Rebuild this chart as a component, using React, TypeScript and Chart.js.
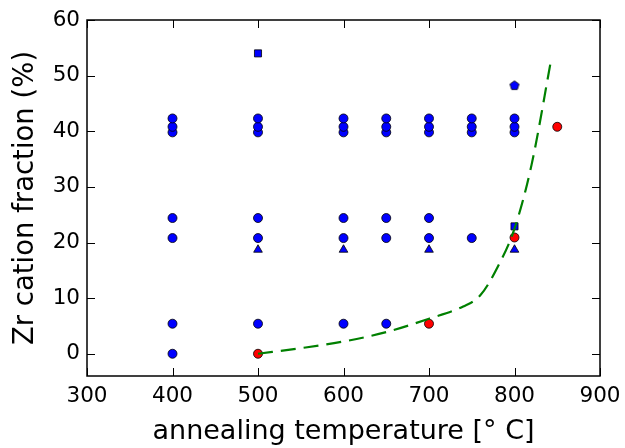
import React, { useEffect, useRef } from "react";
import { Chart, registerables } from "chart.js";

Chart.register(...registerables);

// Data (annealing temperature in °C, Zr cation fraction in %)
const circleT = [400, 400, 400, 400, 400, 400, 400,
  500, 500, 500, 500, 500, 500,
  600, 600, 600, 600, 600, 600,
  650, 650, 650, 650, 650, 650,
  700, 700, 700, 700, 700,
  750, 750, 750, 750,
  800, 800, 800];
const circleZr = [0, 5.4, 20.8, 24.4, 39.8, 40.8, 42.3,
  5.4, 20.8, 24.4, 39.8, 40.8, 42.3,
  5.4, 20.8, 24.4, 39.8, 40.8, 42.3,
  5.4, 20.8, 24.4, 39.8, 40.8, 42.3,
  20.8, 24.4, 39.8, 40.8, 42.3,
  20.8, 39.8, 40.8, 42.3,
  39.8, 40.8, 42.3];
const triangleT = [500, 600, 700, 800];
const triangleZr = [18.7, 18.7, 18.7, 18.7];
const squareT = [500, 800];
const squareZr = [54, 22.9];
const pentagonT = [800];
const pentagonZr = [48.3];
const redT = [500, 700, 800, 850];
const redZr = [0, 5.4, 20.9, 40.8];
const curveT = [500, 550, 600, 650, 700, 740, 760, 780, 800, 820, 843];
const curveZr = [0, 1, 2.2, 3.9, 6.3, 8.5, 10.5, 15.5, 22.5, 34, 53];
const xTicks = [300, 400, 500, 600, 700, 800, 900];
const yTicks = [0, 10, 20, 30, 40, 50, 60];

const pts = (xs: number[], ys: number[]) => xs.map((x, i) => ({ x, y: ys[i] }));

function makePentagon(): HTMLCanvasElement {
  const c = document.createElement("canvas");
  const s = 12;
  c.width = s;
  c.height = s;
  const ctx = c.getContext("2d")!;
  const r = 4.8;
  ctx.beginPath();
  for (let i = 0; i < 5; i++) {
    const a = -Math.PI / 2 + (i * 2 * Math.PI) / 5;
    const px = s / 2 + r * Math.cos(a);
    const py = s / 2 + 0.5 + r * Math.sin(a);
    if (i === 0) ctx.moveTo(px, py);
    else ctx.lineTo(px, py);
  }
  ctx.closePath();
  ctx.fillStyle = "#0000ff";
  ctx.fill();
  ctx.lineWidth = 0.8;
  ctx.strokeStyle = "#000";
  ctx.stroke();
  return c;
}

const framePlugin = {
  id: "frame",
  afterDraw(chart: any) {
    const { ctx, chartArea: a, scales } = chart;
    const L = 8;
    ctx.save();
    ctx.strokeStyle = "#000";
    ctx.lineWidth = 1;
    ctx.beginPath();
    scales.x.ticks.forEach((t: any) => {
      const px = Math.round(scales.x.getPixelForValue(t.value)) + 0.5;
      ctx.moveTo(px, a.bottom);
      ctx.lineTo(px, a.bottom - L);
      ctx.moveTo(px, a.top);
      ctx.lineTo(px, a.top + L);
    });
    scales.y.ticks.forEach((t: any) => {
      const py = Math.round(scales.y.getPixelForValue(t.value)) + 0.5;
      ctx.moveTo(a.left, py);
      ctx.lineTo(a.left + L, py);
      ctx.moveTo(a.right, py);
      ctx.lineTo(a.right - L, py);
    });
    ctx.stroke();
    ctx.lineWidth = 1.5;
    ctx.strokeRect(a.left, a.top, a.right - a.left, a.bottom - a.top);
    ctx.restore();
  },
};

export default function App() {
  const ref = useRef<HTMLCanvasElement>(null);
  useEffect(() => {
    if (!ref.current) return;
    const pent = makePentagon();
    const common = { borderColor: "#000", borderWidth: 0.8, pointRadius: 4.5, pointHoverRadius: 4.5 };
    const chart = new Chart(ref.current, {
      type: "scatter",
      data: {
        datasets: [
          {
            data: pts(curveT, curveZr),
            showLine: true,
            borderColor: "#008000",
            borderWidth: 2.2,
            borderDash: [15, 8],
            pointRadius: 0,
            cubicInterpolationMode: "monotone",
            fill: false,
          } as any,
          { ...common, data: pts(redT, redZr), backgroundColor: "#ff0000", pointStyle: "circle" },
          { ...common, data: pts(circleT, circleZr), backgroundColor: "#0000ff", pointStyle: "circle" },
          { ...common, data: pts(triangleT, triangleZr), backgroundColor: "#0000ff", pointStyle: "triangle", pointRadius: 5 },
          { ...common, data: pts(squareT, squareZr), backgroundColor: "#0000ff", pointStyle: "rect", pointRadius: 5 },
          { ...common, data: pts(pentagonT, pentagonZr), backgroundColor: "#0000ff", pointStyle: pent as any },
        ],
      },
      options: {
        animation: false,
        responsive: false,
        devicePixelRatio: 1,
        layout: { padding: { top: 20, right: 25, left: 0, bottom: 0 } },
        plugins: { legend: { display: false }, tooltip: { enabled: false } },
        scales: {
          x: {
            type: "linear",
            min: 300,
            max: 900,
            afterBuildTicks: (s: any) => { s.ticks = xTicks.map((v) => ({ value: v })); },
            afterFit: (s: any) => { s.height = 72; s.paddingLeft = 0; s.paddingRight = 0; },
            grid: { display: false, drawTicks: false },
            border: { display: false },
            ticks: { color: "#000", font: { family: "DejaVu Sans", size: 21.5 }, padding: 8, maxRotation: 0 },
            title: { display: true, text: "annealing temperature [\u00b0 C]", color: "#000", font: { family: "DejaVu Sans", size: 27 }, padding: 0 },
          },
          y: {
            type: "linear",
            min: -4,
            max: 60,
            afterBuildTicks: (s: any) => { s.ticks = yTicks.map((v) => ({ value: v })); },
            afterFit: (s: any) => { s.width = 87; s.paddingTop = 0; s.paddingBottom = 0; },
            grid: { display: false, drawTicks: false },
            border: { display: false },
            ticks: { color: "#000", font: { family: "DejaVu Sans", size: 21.5 }, padding: 7 },
            title: { display: true, text: "Zr cation fraction (%)", color: "#000", font: { family: "DejaVu Sans", size: 27.5 }, padding: 9 },
          },
        },
      },
      plugins: [framePlugin],
    } as any);
    return () => chart.destroy();
  }, []);
  return (
    <div style={{ position: "absolute", left: 0, top: 0, width: 625, height: 448, background: "#fff" }}>
      <canvas ref={ref} width={625} height={448} />
    </div>
  );
}
